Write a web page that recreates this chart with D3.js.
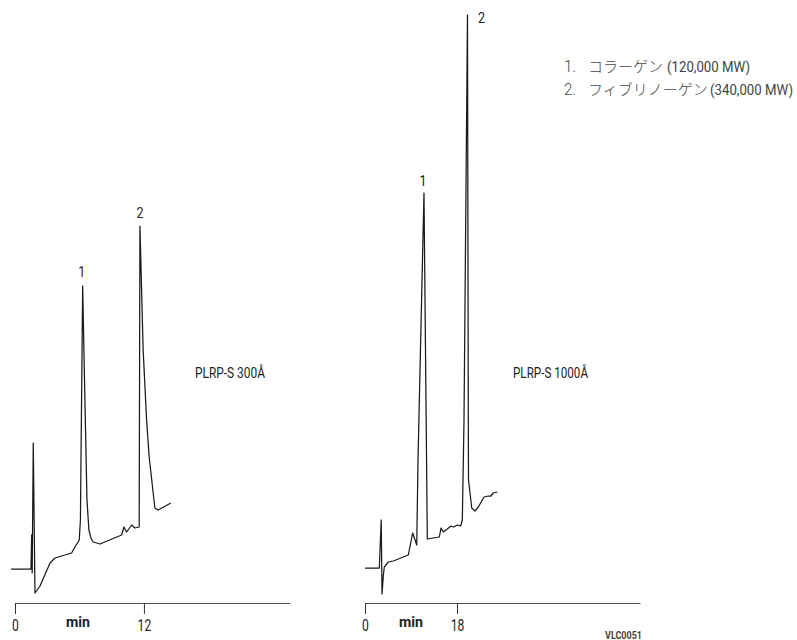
<!DOCTYPE html>
<html>
<head>
<meta charset="utf-8">
<script src="https://cdn.jsdelivr.net/npm/d3@7"></script>
<style>
  html, body { margin: 0; padding: 0; background: #fff; }
  svg { display: block; }
  .narrow { font-family: "Liberation Sans Narrow", "Roboto", "DejaVu Sans Condensed", sans-serif; }
  .jp { font-family: "Noto Sans CJK JP", "Noto Sans CJK SC", sans-serif; }
</style>
</head>
<body>
<svg id="chart" width="797" height="640"></svg>
<script>
// ---- Data (time in minutes, detector response in arbitrary units) ----
// Panel A: PLRP-S 300Å
const timeA = [-0.37, 1.49, 1.55, 1.60, 1.70, 1.86, 2.33, 3.26, 3.72, 5.27, 5.58, 5.98, 6.09, 6.30, 6.47, 6.70, 6.88, 7.07, 7.28, 7.91, 9.93, 10.14, 10.39, 10.86, 11.16, 11.56, 11.63, 11.93, 12.25, 12.49, 13.02, 13.33, 14.51];
const signalA = [34, 34, 68, 30, 160, 10, 17, 40, 45, 50, 56, 63, 83, 317, 223, 103, 73, 65, 61, 59, 68, 76, 71, 78, 75, 76, 377, 253, 183, 146, 95, 93, 100];
// Panel B: PLRP-S 1000Å
const timeB = [0, 2.80, 3.17, 3.33, 3.58, 3.78, 4.56, 5.54, 8.47, 9.33, 10.12, 10.37, 11.54, 11.93, 12.19, 14.54, 14.87, 15.32, 16.10, 16.83, 17.28, 18.06, 18.72, 19.04, 19.37, 20.05, 20.21, 20.25, 20.88, 21.52, 22.17, 23.28, 24.12, 24.60, 25.10, 25.89];
const signalB = [35, 35, 83, 9, 27, 36, 41, 42, 48, 70, 58, 143, 410, 203, 64, 66, 75, 71, 74, 77, 76, 78, 77, 83, 183, 588, 183, 123, 95, 92, 96, 106, 107, 107, 110, 111];

const ticksA = [0, 12];
const ticksB = [0, 18];
const domainA = [0, 25.6];
const domainB = [0, 53.8];

// Peak annotations: [time, response, label]
const peaksA = [[6.30, 317, "1"], [11.63, 377, "2"]];
const peaksB = [[11.54, 410, "1"], [20.05, 588, "2"]];

const columnNames = ["PLRP-S 300Å", "PLRP-S 1000Å"];
const legendNums = ["1.", "2."];
const legendNames = ["コラーゲン", "フィブリノーゲン"];
const legendMW = ["(120,000 MW)", "(340,000 MW)"];
const axisUnit = "min";
const figureCode = "VLC0051";

// ---- Drawing ----
const svg = d3.select("#chart");
const axisY = 603;
const y = d3.scaleLinear().domain([0, 600]).range([axisY, 3]);

const panels = [
  { t: timeA, s: signalA, ticks: ticksA, domain: domainA, range: [15, 290], peaks: peaksA, name: columnNames[0], nameX: 195, nameW: 70, unitX: 78,
    peakOff: [[-1, -9], [0, -8]] },
  { t: timeB, s: signalB, ticks: ticksB, domain: domainB, range: [365, 640], peaks: peaksB, name: columnNames[1], nameX: 513, nameW: 75, unitX: 411,
    peakOff: [[-1, -7], [14, 8]] }
];

panels.forEach(p => {
  const x = d3.scaleLinear().domain(p.domain).range(p.range);
  const pts = p.t.map((d, i) => [d, p.s[i]]);
  const line = d3.line().x(d => x(d[0])).y(d => y(d[1]));

  svg.append("path")
    .datum(pts)
    .attr("d", line)
    .attr("fill", "none")
    .attr("stroke", "#1a1a1a")
    .attr("stroke-width", 1.25)
    .attr("stroke-linejoin", "round");

  const axis = d3.axisBottom(x)
    .tickValues(p.ticks)
    .tickFormat(d3.format("d"))
    .tickSizeInner(11)
    .tickSizeOuter(0)
    .tickPadding(5);

  const g = svg.append("g")
    .attr("transform", `translate(0,${axisY})`)
    .call(axis);
  g.select(".domain").attr("stroke", "#555").attr("stroke-width", 1);
  g.selectAll(".tick line").attr("stroke", "#333").attr("stroke-width", 1);
  g.selectAll(".tick text")
    .attr("font-size", 16.5)
    .attr("fill", "#222")
    .style("font-family", '"Liberation Sans Narrow", "Roboto", sans-serif')
    .attr("textLength", d => String(d).length * 6.8)
    .attr("lengthAdjust", "spacingAndGlyphs");

  svg.append("text")
    .attr("class", "narrow")
    .attr("x", p.unitX - 12).attr("y", 627)
    .attr("font-size", 14)
    .attr("font-weight", "bold")
    .attr("fill", "#222")
    .attr("textLength", 24)
    .attr("lengthAdjust", "spacingAndGlyphs")
    .text(axisUnit);

  p.peaks.forEach((pk, i) => {
    svg.append("text")
      .attr("class", "narrow")
      .attr("x", x(pk[0]) + p.peakOff[i][0])
      .attr("y", y(pk[1]) + p.peakOff[i][1])
      .attr("text-anchor", "middle")
      .attr("font-size", 15)
      .attr("fill", "#222")
      .attr("textLength", 7)
      .attr("lengthAdjust", "spacingAndGlyphs")
      .text(pk[2]);
  });

  svg.append("text")
    .attr("class", "narrow")
    .attr("x", p.nameX).attr("y", 378)
    .attr("font-size", 15.5)
    .attr("fill", "#222")
    .attr("textLength", p.nameW)
    .attr("lengthAdjust", "spacingAndGlyphs")
    .text(p.name);
});

// Legend
const legendY = [72, 95];
const mwX = [667, 710];
legendNums.forEach((n, i) => {
  svg.append("text").attr("class", "narrow").attr("x", 564).attr("y", legendY[i])
    .attr("font-size", 16.5).attr("font-weight", 300).attr("fill", "#444")
    .attr("textLength", 12).attr("lengthAdjust", "spacingAndGlyphs").text(n);
  svg.append("text").attr("class", "jp").attr("x", 588).attr("y", legendY[i])
    .attr("font-size", 15).attr("font-weight", 300).attr("fill", "#444").text(legendNames[i]);
  svg.append("text").attr("class", "narrow").attr("x", mwX[i]).attr("y", legendY[i])
    .attr("font-size", 14).attr("fill", "#444")
    .attr("textLength", 83).attr("lengthAdjust", "spacingAndGlyphs").text(legendMW[i]);
});

svg.append("text")
  .attr("class", "narrow")
  .attr("x", 605).attr("y", 639)
  .attr("font-size", 10)
  .attr("font-weight", "bold")
  .attr("fill", "#444")
  .attr("textLength", 37)
  .attr("lengthAdjust", "spacingAndGlyphs")
  .text(figureCode);
</script>
</body>
</html>
